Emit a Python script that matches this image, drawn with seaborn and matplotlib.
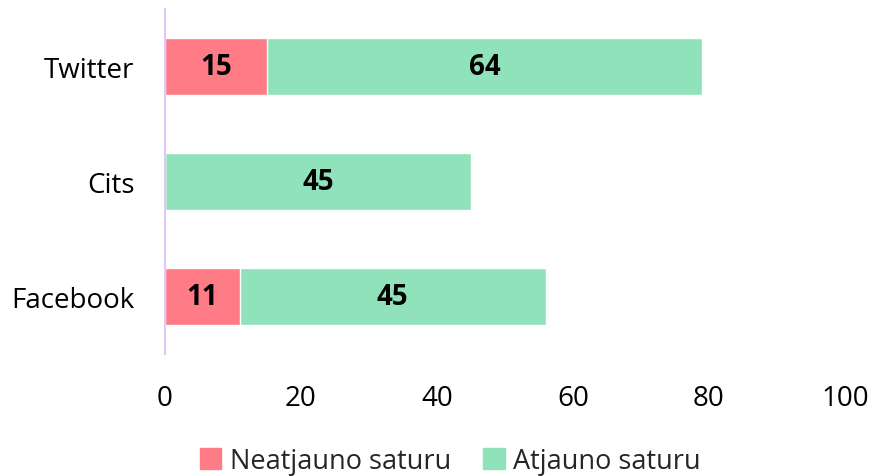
import pandas as pd
import seaborn as sns
import matplotlib.pyplot as plt
from matplotlib.patches import Patch

categories = ["Twitter", "Cits", "Facebook"]
neatjauno = [15, 0, 11]
atjauno = [64, 45, 45]
series_names = ["Neatjauno saturu", "Atjauno saturu"]
xticks = [0, 20, 40, 60, 80, 100]

PINK = "#FF7B86"
GREEN = "#90E2BA"

sns.set_theme(style="white")
plt.rcParams["font.family"] = ["Open Sans", "DejaVu Sans"]

df = pd.DataFrame({"cat": categories, "neat": neatjauno, "atj": atjauno})
df["total"] = df["neat"] + df["atj"]

fig = plt.figure(figsize=(8.71, 4.77), dpi=100)
ax = fig.add_axes([0.1894, 0.256, 0.7806, 0.723])

sns.barplot(data=df, x="total", y="cat", color=GREEN, saturation=1, width=0.5, ax=ax)
sns.barplot(data=df, x="neat", y="cat", color=PINK, saturation=1, width=0.5, ax=ax)

for i, row in df.iterrows():
    if row["neat"] > 0:
        ax.text(row["neat"] / 2, i, str(row["neat"]), ha="center", va="center",
                fontsize=20, fontweight="bold", color="black")
    ax.text(row["neat"] + row["atj"] / 2, i, str(row["atj"]), ha="center", va="center",
            fontsize=20, fontweight="bold", color="black")

ax.set_xlim(0, 100)
ax.set_ylim(2.5, -0.5)
ax.set_xticks(xticks)
ax.set_xlabel("")
ax.set_ylabel("")
ax.tick_params(axis="both", length=0, labelsize=20, colors="black")
ax.tick_params(axis="x", pad=22)
ax.tick_params(axis="y", pad=22)
for s in ["top", "right", "bottom"]:
    ax.spines[s].set_visible(False)
ax.spines["left"].set_color("#DFC8F5")
ax.spines["left"].set_linewidth(1.5)

handles = [Patch(color=PINK), Patch(color=GREEN)]
fig.legend(handles, series_names, loc="center", bbox_to_anchor=(0.517, 0.032), ncol=2,
           frameon=False, fontsize=19.5, handlelength=0.8, handleheight=0.8,
           handletextpad=0.3, columnspacing=1.2)

fig.savefig("out.png", dpi=100)
